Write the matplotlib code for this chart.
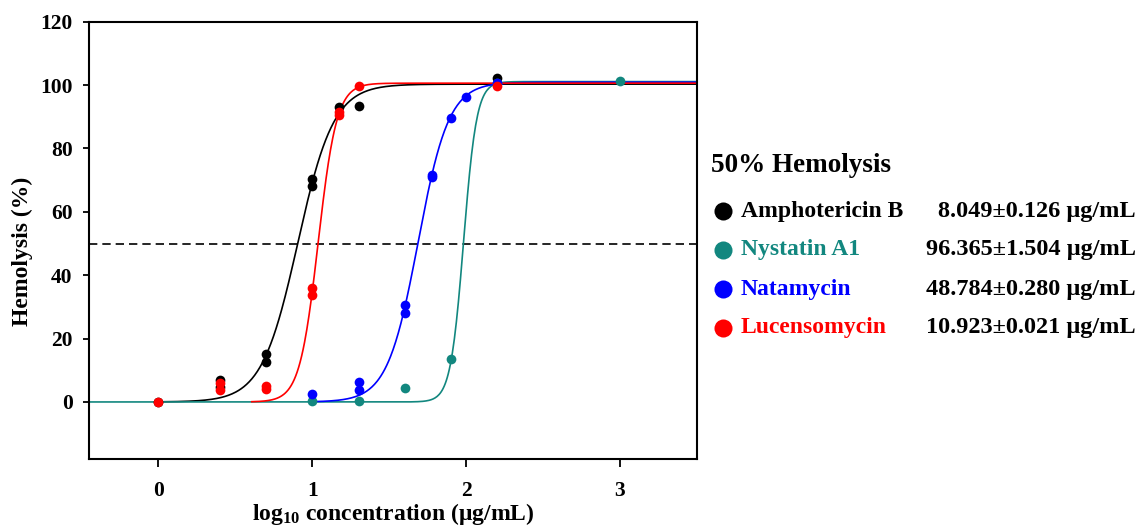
import numpy as np
import matplotlib
matplotlib.use("Agg")
import matplotlib.pyplot as plt

# ---------------- data ----------------
# log10 concentration (ug/mL) and % hemolysis
amb_x = [0.0, 0.398, 0.398, 0.699, 0.699, 1.0, 1.0, 1.176, 1.301, 2.204]
amb_y = [0.0, 6.8, 4.6, 15.1, 12.6, 70.3, 68.1, 93.0, 93.5, 102.1]

nys_x = [1.0, 1.301, 1.602, 1.903, 2.204, 3.0]
nys_y = [0.3, 0.3, 4.5, 13.5, 100.7, 101.3]

nat_x = [1.0, 1.301, 1.301, 1.602, 1.602, 1.778, 1.778, 1.903, 2.0, 2.204]
nat_y = [2.6, 6.3, 3.7, 30.5, 28.1, 71.6, 70.9, 89.5, 96.3, 100.5]

luc_x = [0.0, 0.398, 0.398, 0.699, 0.699, 1.0, 1.0, 1.176, 1.176, 1.301, 2.204]
luc_y = [0.0, 6.0, 3.7, 5.0, 4.2, 36.0, 33.9, 91.6, 90.5, 99.7, 99.7]

# fitted sigmoid parameters: EC50 (ug/mL), Hill slope, top, fit start (log10)
names = ["Amphotericin B", "Nystatin A1", "Natamycin", "Lucensomycin"]
ec50 = [8.049, 96.365, 48.784, 10.923]
ec50_err = [0.126, 1.504, 0.280, 0.021]
hill = [3.7, 10.2, 4.35, 7.2]
top = [100.3, 101.1, 100.9, 100.6]
fit_start = [0.0, -0.45, 1.0, 0.607]

colors = ["#000000", "#12877f", "#0000ff", "#ff0000"]
xs = [amb_x, nys_x, nat_x, luc_x]
ys = [amb_y, nys_y, nat_y, luc_y]

xticks = [0, 1, 2, 3]
yticks = [0, 20, 40, 60, 80, 100, 120]

# ---------------- style ----------------
plt.rcParams["font.family"] = ["Liberation Serif", "DejaVu Serif"]
plt.rcParams["font.weight"] = "bold"
plt.rcParams["mathtext.fontset"] = "custom"
plt.rcParams["mathtext.rm"] = "Liberation Serif:bold"
plt.rcParams["mathtext.bf"] = "Liberation Serif:bold"
plt.rcParams["mathtext.it"] = "Liberation Serif:bold"

W, H = 1138, 527
L, R, T, B = 89.3, 696.7, 21.7, 459.0
fig = plt.figure(figsize=(W / 100, H / 100), dpi=100)
ax = fig.add_axes([L / W, 1 - B / H, (R - L) / W, (B - T) / H])

xmin, xmax = -0.45, 3.5
ax.axhline(50, color="black", lw=1.2, ls=(0, (5, 3)), zorder=1)

for i in range(4):
    xx = np.linspace(fit_start[i], xmax, 600)
    yy = top[i] / (1 + 10 ** ((np.log10(ec50[i]) - xx) * hill[i]))
    ax.plot(xx, yy, color=colors[i], lw=1.2, zorder=2)

for i in range(4):
    ax.plot(xs[i], ys[i], "o", color=colors[i], ms=7, mew=0, zorder=3 + i)

ax.set_xlim(xmin, xmax)
ax.set_ylim(-18, 120)
ax.set_xticks(xticks)
ax.set_yticks(yticks)
ax.tick_params(axis="x", direction="out", length=6, width=1.3, pad=10, labelsize=15.5)
ax.tick_params(axis="y", direction="out", length=4, width=1.3, pad=8, labelsize=15.5)
for s in ax.spines.values():
    s.set_linewidth(1.5)

ax.set_xlabel(r"log$_{10}$ concentration (μg/mL)", fontsize=17, fontweight="bold")
ax.set_ylabel("Hemolysis (%)", fontsize=17, fontweight="bold")
ax.xaxis.set_label_coords(0.5, -0.096)
ax.yaxis.set_label_coords(-0.092, 0.474)

# ---------------- side legend ----------------
lg = fig.add_axes([0, 0, 1, 1])
lg.set_axis_off()
lg.set_xlim(0, W)
lg.set_ylim(H, 0)
lg.text(711, 165, "50% Hemolysis", fontsize=19.5, fontweight="bold",
        va="center", ha="left", color="black")
rows_y = [211, 250, 289, 328]
for i in range(4):
    lg.plot([723], [rows_y[i]], "o", color=colors[i], ms=13, mew=0)
    lg.text(741, rows_y[i], names[i], fontsize=17, fontweight="bold",
            va="center", ha="left", color=colors[i])
    lg.text(1136, rows_y[i], f"{ec50[i]:.3f}±{ec50_err[i]:.3f} μg/mL",
            fontsize=17.5, fontweight="bold", va="center", ha="right", color="black")

fig.savefig("out.png", dpi=100)
